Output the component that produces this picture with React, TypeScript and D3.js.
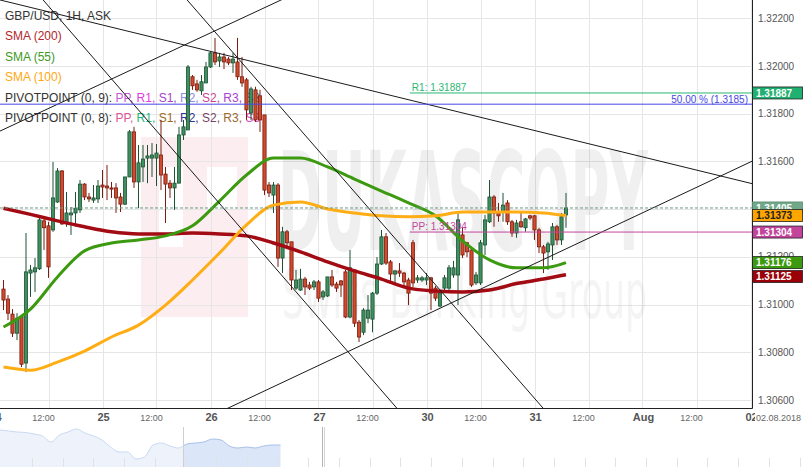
import * as d3 from "d3";

// GBP/USD 1H, hour index 0 = 24 Jul 00:00 (weekend hours skipped)
const firstHour = 2;

const candleOpen = [
  1.31065, 1.31023, 1.3096, 1.3088, 1.30948, 1.30755, 1.31132, 1.31137, 1.3115, 1.31351,
  1.3133, 1.31313, 1.3143, 1.3156, 1.31342, 1.31376, 1.31384, 1.31397, 1.31505, 1.31451,
  1.31438, 1.31443, 1.31501, 1.31497, 1.31489, 1.31489, 1.31451, 1.31421, 1.31535, 1.31724,
  1.31514, 1.31577, 1.31614, 1.31614, 1.31614, 1.31627, 1.31547, 1.31509, 1.31489, 1.31509,
  1.31711, 1.31732, 1.31955, 1.31925, 1.31896, 1.31929, 1.31996, 1.32055, 1.32021, 1.32038,
  1.32029, 1.32013, 1.32017, 1.31955, 1.31942, 1.31803, 1.319, 1.31875, 1.31795, 1.31501,
  1.31459, 1.31501, 1.31195, 1.31305, 1.31263, 1.31069, 1.31061, 1.31107, 1.31082, 1.31074,
  1.31095, 1.31032, 1.31036, 1.31116, 1.31086, 1.31099, 1.31137, 1.30948, 1.31145, 1.30926,
  1.30884, 1.30943, 1.30939, 1.31048, 1.3117, 1.31284, 1.31179, 1.31128, 1.31141, 1.31132,
  1.31103, 1.31259, 1.31103, 1.31103, 1.31103, 1.31112, 1.31069, 1.30994, 1.31069, 1.31069,
  1.31124, 1.31124, 1.31292, 1.31259, 1.31229, 1.31091, 1.31091, 1.3125, 1.31347, 1.31451,
  1.31388, 1.31388, 1.31426, 1.31347, 1.313, 1.31347, 1.31322, 1.31372, 1.31372, 1.31313,
  1.31242, 1.31221, 1.3125, 1.31326, 1.31271, 1.31376,
];
const candleHigh = [
  1.31103, 1.3104, 1.30981, 1.30964, 1.30956, 1.313, 1.31166, 1.31195, 1.31368, 1.31368,
  1.31347, 1.31598, 1.31572, 1.31564, 1.31472, 1.31409, 1.31472, 1.31522, 1.31509, 1.31468,
  1.31501, 1.31522, 1.31564, 1.31585, 1.31514, 1.31509, 1.31468, 1.31535, 1.31732, 1.31745,
  1.31669, 1.31669, 1.31669, 1.31677, 1.31673, 1.31774, 1.31577, 1.31522, 1.31577, 1.31745,
  1.31774, 1.32004, 1.31962, 1.31942, 1.31962, 1.32017, 1.32059, 1.32118, 1.32055, 1.32055,
  1.32038, 1.32055, 1.32118, 1.32038, 1.3195, 1.31913, 1.31913, 1.319, 1.31795, 1.31514,
  1.31514, 1.31509, 1.31326, 1.31313, 1.31263, 1.31145, 1.3115, 1.31116, 1.31095, 1.31103,
  1.31103, 1.31061, 1.31116, 1.31145, 1.31095, 1.31103, 1.31145, 1.31229, 1.31145, 1.30935,
  1.30985, 1.3104, 1.31053, 1.31199, 1.31313, 1.313, 1.31187, 1.31145, 1.31174, 1.31137,
  1.31112, 1.31271, 1.31124, 1.3112, 1.31132, 1.31116, 1.31078, 1.31061, 1.31124, 1.31166,
  1.31183, 1.31384, 1.31322, 1.31263, 1.31242, 1.31137, 1.31271, 1.31376, 1.31522, 1.31459,
  1.31426, 1.31468, 1.31438, 1.31355, 1.31355, 1.31388, 1.31363, 1.31376, 1.31376, 1.31322,
  1.3125, 1.31263, 1.31342, 1.31334, 1.31384, 1.31468,
];
const candleLow = [
  1.30977, 1.30935, 1.30864, 1.30851, 1.30738, 1.30717, 1.31032, 1.31053, 1.31145, 1.31229,
  1.31112, 1.31305, 1.31426, 1.31334, 1.31326, 1.31292, 1.31326, 1.31384, 1.31438, 1.3143,
  1.31426, 1.31426, 1.31447, 1.31438, 1.31447, 1.31384, 1.31388, 1.31417, 1.31535, 1.31489,
  1.31404, 1.31514, 1.31509, 1.31535, 1.31497, 1.3148, 1.31342, 1.31447, 1.31397, 1.31509,
  1.3169, 1.31732, 1.319, 1.31892, 1.31879, 1.31929, 1.31992, 1.32004, 1.31996, 1.31987,
  1.32004, 1.31971, 1.31942, 1.31913, 1.31774, 1.31774, 1.31766, 1.31724, 1.31459, 1.31451,
  1.31384, 1.31158, 1.31132, 1.31237, 1.31061, 1.31061, 1.31057, 1.3104, 1.31061, 1.31061,
  1.31011, 1.31019, 1.31032, 1.31074, 1.31053, 1.31032, 1.30943, 1.30943, 1.30906, 1.30843,
  1.30872, 1.30922, 1.30884, 1.3104, 1.31166, 1.31166, 1.31095, 1.31082, 1.31116, 1.31074,
  1.30998, 1.31074, 1.31091, 1.31095, 1.31082, 1.30977, 1.31015, 1.30989, 1.31053, 1.31061,
  1.31112, 1.30998, 1.31195, 1.31199, 1.31074, 1.31082, 1.31082, 1.31208, 1.31342, 1.31326,
  1.31347, 1.31347, 1.31334, 1.31284, 1.3128, 1.31322, 1.31305, 1.31355, 1.31271, 1.31216,
  1.31132, 1.31145, 1.31187, 1.3125, 1.3125, 1.31322,
];
const candleClose = [
  1.31019, 1.30964, 1.3088, 1.30943, 1.3075, 1.31137, 1.31145, 1.31154, 1.31355, 1.31322,
  1.31158, 1.31447, 1.3156, 1.31338, 1.31384, 1.31384, 1.31404, 1.31505, 1.31451, 1.31443,
  1.31447, 1.31497, 1.31493, 1.31489, 1.31484, 1.31447, 1.31421, 1.31535, 1.31724, 1.31514,
  1.31594, 1.3161, 1.31623, 1.31627, 1.31635, 1.31543, 1.31505, 1.31489, 1.31509, 1.31711,
  1.31745, 1.31996, 1.31917, 1.319, 1.31934, 1.31996, 1.32055, 1.32017, 1.32038, 1.32017,
  1.32013, 1.32029, 1.31955, 1.31929, 1.31816, 1.31904, 1.31774, 1.31774, 1.3148, 1.31468,
  1.31501, 1.31195, 1.31305, 1.31259, 1.31103, 1.31103, 1.31107, 1.31074, 1.31069, 1.31095,
  1.31027, 1.31053, 1.31116, 1.31082, 1.31069, 1.31082, 1.30948, 1.31154, 1.30922, 1.30864,
  1.30977, 1.30977, 1.31048, 1.3117, 1.31284, 1.31174, 1.31128, 1.31141, 1.31132, 1.31095,
  1.31048, 1.31091, 1.31112, 1.31112, 1.31112, 1.31048, 1.31027, 1.31048, 1.31112, 1.31154,
  1.31154, 1.31355, 1.31208, 1.31221, 1.31082, 1.31124, 1.31259, 1.31355, 1.31451, 1.31384,
  1.31372, 1.31417, 1.31347, 1.313, 1.31342, 1.31326, 1.31359, 1.31363, 1.31313, 1.31242,
  1.31216, 1.31254, 1.31326, 1.31271, 1.31368, 1.31405,
];

// moving averages sampled every 6 hours
const maHours = [2, 8, 14, 20, 26, 32, 38, 44, 50, 56, 62, 68, 74, 80, 86, 92, 98, 104, 110, 116, 122, 127];
const sma200 = [
  1.31404, 1.31378, 1.31351, 1.31326, 1.31305, 1.31296, 1.31296, 1.313, 1.31296, 1.31288, 1.31258,
  1.31221, 1.31179, 1.31141, 1.31107, 1.31069, 1.31057, 1.31053, 1.31061, 1.31088, 1.31107, 1.31125,
];
const sma55 = [
  1.30906, 1.30981, 1.31116, 1.31225, 1.31258, 1.31271, 1.31288, 1.3133, 1.31434, 1.31543, 1.31614,
  1.31614, 1.31577, 1.31526, 1.31476, 1.31426, 1.31372, 1.31267, 1.31187, 1.31154, 1.31154, 1.31176,
];
const sma100 = [
  1.30738, 1.30725, 1.30759, 1.30805, 1.30864, 1.30914, 1.30998, 1.31103, 1.31216, 1.31334, 1.31417,
  1.3143, 1.31401, 1.31384, 1.31372, 1.31368, 1.31372, 1.31388, 1.31388, 1.31388, 1.31384, 1.31373,
];

// trend lines: two anchors each [hour, price]
const trendLines = [
  [[1.2, 1.32277], [167.9, 1.31509]],
  [[10.8, 1.32277], [89.4, 1.30566]],
  [[42.8, 1.32277], [121.9, 1.30566]],
  [[1.2, 1.31727], [63.7, 1.32277]],
  [[51.9, 1.30566], [167.9, 1.31597]],
];

const pivotStart = 92.3;
const r1Level = 1.31887;
const ppLevel = 1.31304;
const fib50Level = 1.3184;
const lastPrice = 1.31405;

const priceTicks = [1.306, 1.308, 1.31, 1.312, 1.314, 1.316, 1.318, 1.32, 1.322];
const dayTicks = [0, 24, 48, 72, 96, 120, 144, 168];
const dayLabels = ["24", "25", "26", "27", "30", "31", "Aug", "02"];
const halfDayTicks = [12, 36, 60, 84, 108, 132, 156];

// indicator badges (stacked), last price badge is separate
const badgeValues = [1.31887, 1.31373, 1.31304, 1.31176, 1.31125];
const badgeFills = ["#20b071", "#ffa500", "#c2449c", "#3b9a10", "#9b0008"];
const badgeText = ["#fff", "#222", "#fff", "#fff", "#fff"];

// navigator series
const navValues = [
  1.319, 1.3185, 1.318, 1.31775, 1.317, 1.316, 1.313, 1.3165, 1.318, 1.3195, 1.3175, 1.316,
  1.314, 1.3105, 1.308, 1.308, 1.3045, 1.3055, 1.3115, 1.3125, 1.311, 1.31, 1.312, 1.3125,
  1.313, 1.3145, 1.314, 1.311, 1.31, 1.3105, 1.31, 1.311, 1.3115, 1.3115,
];

const FONT = "'Liberation Sans', Arial, sans-serif";

const legendRows = [
  [["GBP/USD, 1H, ASK", "#333"]],
  [["SMA (200)", "#b3262b"]],
  [["SMA (55)", "#3c9a1c"]],
  [["SMA (100)", "#ffa812"]],
  [
    ["PIVOTPOINT (0, 9): ", "#333"], ["PP, ", "#c45ad8"], ["R1, ", "#e23ee2"], ["S1, ", "#a646c8"],
    ["R2, ", "#8c8ce0"], ["S2, ", "#cc4490"], ["R3, ", "#a844d0"], ["S3", "#2398a8"],
  ],
  [
    ["PIVOTPOINT (0, 8): ", "#333"], ["PP, ", "#dd5599"], ["R1, ", "#22b878"], ["S1, ", "#9a6a22"],
    ["R2, ", "#343494"], ["S2, ", "#784466"], ["R3, ", "#9a6a33"], ["S3", "#dd44cc"],
  ],
];

export default function App() {
  const plotR = 752.5;
  const plotB = 408.5;
  const x = d3.scaleLinear().domain([0, 168]).range([-5.5, 750.5]);
  const y = d3.scaleLinear().domain([1.306, 1.322]).range([400, 18.3]);

  const maLine = (vals: number[]) =>
    d3
      .line<number>()
      .x((_, i) => x(maHours[i]))
      .y((d) => y(d))
      .curve(d3.curveMonotoneX)(vals) || "";

  const navX = d3.scaleLinear().domain([0, navValues.length - 1]).range([0, 280.5]);
  const navY = d3.scaleLinear().domain([1.303, 1.32]).range([462, 428]);
  const navArea = d3
    .area<number>()
    .x((_, i) => navX(i))
    .y0(467)
    .y1((d) => navY(d))
    .curve(d3.curveMonotoneX)(navValues) || "";
  const navLine = d3
    .line<number>()
    .x((_, i) => navX(i))
    .y((d) => navY(d))
    .curve(d3.curveMonotoneX)(navValues) || "";

  // push overlapping badges apart
  const badgeH = 12;
  const badgeY: number[] = [];
  badgeValues.forEach((v, i) => {
    let yy = y(v);
    if (i > 0 && yy < badgeY[i - 1] + badgeH + 2) yy = badgeY[i - 1] + badgeH + 2;
    badgeY.push(yy);
  });

  const bodyW = 3.2;

  return (
    <div>
      <style>{"body{margin:0}"}</style>
      <svg width={803} height={467} style={{ display: "block", fontFamily: FONT }}>
        <defs>
          <clipPath id="plot">
            <rect x={0} y={0} width={plotR} height={plotB} />
          </clipPath>
          <clipPath id="navL">
            <rect x={0} y={420} width={183} height={47} />
          </clipPath>
          <clipPath id="navR">
            <rect x={183} y={420} width={140} height={47} />
          </clipPath>
        </defs>
        <rect width={803} height={467} fill="#fff" />

        <g clipPath="url(#plot)">
          {/* watermark logo */}
          <rect x={141} y={137} width={107} height={180} fill="#fcedf0" />
          <g fill="#fff">
            <rect x={159} y={167} width={24} height={80} />
            <rect x={207} y={167} width={30} height={43} />
          </g>

          {/* grid */}
          {priceTicks.map((p) => (
            <line key={p} x1={0} x2={plotR} y1={Math.round(y(p)) + 0.5} y2={Math.round(y(p)) + 0.5} stroke="#e6e6e6" />
          ))}
          {[...dayTicks, ...halfDayTicks].map((h) => (
            <line key={h} x1={Math.round(x(h)) + 0.5} x2={Math.round(x(h)) + 0.5} y1={0} y2={plotB} stroke="#e6e6e6" />
          ))}

          {/* watermark text */}
          <text x={278} y={250} fontSize={137} fontWeight="bold" fontFamily="'DejaVu Sans', sans-serif"
            textLength={370} lengthAdjust="spacingAndGlyphs" fill="#000" opacity={0.058}>DUKASCOPY</text>
          <text x={282} y={318} fontSize={68} fontFamily="'DejaVu Sans', sans-serif"
            textLength={365} lengthAdjust="spacingAndGlyphs" fill="#000" opacity={0.04}>Swiss Banking Group</text>

          {/* legend */}
          {legendRows.map((row, r) => (
            <text key={r} x={5} y={19.5 + r * 20.5} fontSize={12}>
              {row.map(([t, c], k) => (
                <tspan key={k} fill={c}>{t}</tspan>
              ))}
            </text>
          ))}

          {/* candles */}
          {candleOpen.map((o, i) => {
            const c = candleClose[i];
            const up = c >= o;
            const cx = x(firstHour + i);
            const yt = y(Math.max(o, c));
            const yb = y(Math.min(o, c));
            const stroke = up ? "#1d5233" : "#7a1c10";
            return (
              <g key={i}>
                <line x1={cx} x2={cx} y1={y(candleHigh[i])} y2={y(candleLow[i])} stroke={stroke} strokeWidth={1} />
                <rect x={cx - bodyW / 2} y={yt} width={bodyW} height={Math.max(1, yb - yt)}
                  fill={up ? "#3f9060" : "#d04a2e"} stroke={stroke} strokeWidth={0.8} />
              </g>
            );
          })}

          {/* moving averages */}
          <path d={maLine(sma200)} fill="none" stroke="#a30b14" strokeWidth={3.5} strokeLinejoin="round" />
          <path d={maLine(sma55)} fill="none" stroke="#3c9a10" strokeWidth={3} strokeLinejoin="round" />
          <path d={maLine(sma100)} fill="none" stroke="#ffad14" strokeWidth={3} strokeLinejoin="round" />

          {/* trend lines */}
          {trendLines.map(([[h1, p1], [h2, p2]], k) => {
            const s = (p2 - p1) / (h2 - h1);
            const ha = -20, hb = 190;
            return (
              <line key={k} x1={x(ha)} y1={y(p1 + (ha - h1) * s)} x2={x(hb)} y2={y(p1 + (hb - h1) * s)}
                stroke="#1a1a1a" strokeWidth={1} />
            );
          })}

          {/* levels */}
          <line x1={0} x2={plotR} y1={y(lastPrice)} y2={y(lastPrice)} stroke="#6b9b80" strokeDasharray="3,2" />
          <line x1={0} x2={plotR} y1={y(fib50Level)} y2={y(fib50Level)} stroke="#4848e4" />
          <text x={748} y={y(fib50Level) - 1.5} fontSize={10} fill="#4848e4" textAnchor="end">50.00 % (1.3185)</text>
          <line x1={x(pivotStart)} x2={plotR} y1={y(r1Level)} y2={y(r1Level)} stroke="#2ab673" />
          <text x={x(pivotStart) + 2} y={y(r1Level) - 2} fontSize={10} fill="#2ab673">R1: 1.31887</text>
          <line x1={x(pivotStart)} x2={plotR} y1={y(ppLevel)} y2={y(ppLevel)} stroke="#c2469c" />
          <text x={x(pivotStart) + 2} y={y(ppLevel) - 2} fontSize={10} fill="#c2469c">PP: 1.31304</text>
        </g>

        {/* axes */}
        <line x1={plotR} x2={plotR} y1={0} y2={plotB} stroke="#222" />
        <line x1={0} x2={plotR} y1={plotB} y2={plotB} stroke="#222" />
        {priceTicks.map((p) => (
          <text key={p} x={758} y={y(p) + 3.5} fontSize={10} fill="#555">{p.toFixed(5)}</text>
        ))}
        {dayTicks.map((h, i) => (
          <text key={h} x={x(h) + 1} y={421} fontSize={11} fontWeight="bold" fill="#555" textAnchor="middle">{dayLabels[i]}</text>
        ))}
        {halfDayTicks.map((h) => (
          <text key={h} x={x(h) - 5} y={420.5} fontSize={9} fill="#666" textAnchor="middle">12:00</text>
        ))}
        <rect x={755} y={410} width={48} height={14} fill="#fff" />
        <text x={756} y={420.5} fontSize={9} fill="#666">02.08.2018</text>

        {/* price badges */}
        <rect x={752.5} y={y(lastPrice) - 6} width={50} height={badgeH} fill="#70a98a" stroke="#5a8a70" strokeWidth={0.8} />
        <text x={756} y={y(lastPrice) + 3.6} fontSize={10} fontWeight="bold" fill="#fff">{lastPrice.toFixed(5)}</text>
        {badgeValues.map((v, i) => (
          <g key={v}>
            <rect x={752.5} y={badgeY[i] - 6} width={50} height={badgeH} fill={badgeFills[i]} stroke="#222" strokeWidth={0.8} />
            <text x={756} y={badgeY[i] + 3.6} fontSize={10} fontWeight="bold" fill={badgeText[i]}>{v.toFixed(5)}</text>
          </g>
        ))}

        {/* navigator */}
        <path d={navArea} fill="#eef3fb" clipPath="url(#navL)" />
        <path d={navLine} fill="none" stroke="#c9d9f3" clipPath="url(#navL)" />
        <path d={navArea} fill="#dbe6f8" clipPath="url(#navR)" />
        <path d={navLine} fill="none" stroke="#a8c0ea" clipPath="url(#navR)" />
        {d3.range(32, 803, 30.7).map((t) => (
          <line key={t} x1={Math.round(t) + 0.5} x2={Math.round(t) + 0.5} y1={458} y2={467} stroke="#e2e2e2" />
        ))}
        <line x1={183.5} x2={183.5} y1={427} y2={467} stroke="#cfcfcf" />
        <line x1={322.5} x2={322.5} y1={427} y2={467} stroke="#b5b5b5" />
        <line x1={324.5} x2={324.5} y1={427} y2={467} stroke="#d5d5d5" />
      </svg>
    </div>
  );
}
